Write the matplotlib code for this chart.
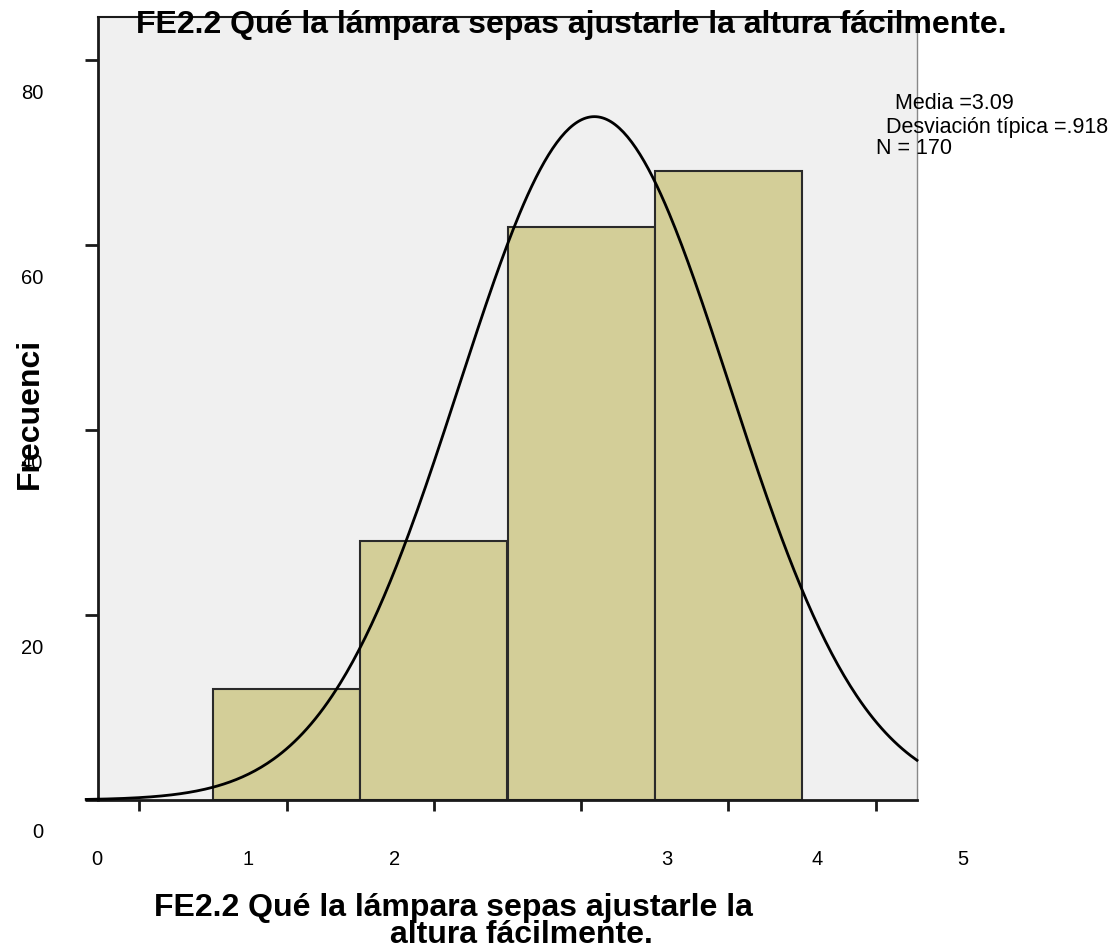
import numpy as np
import matplotlib
matplotlib.use('Agg')
import matplotlib.pyplot as plt
import matplotlib.transforms as mtransforms

plt.rcParams['font.family'] = ['Liberation Sans', 'DejaVu Sans']

# 数据
valores = [1, 2, 3, 4]
frecuencias = [12, 28, 62, 68]
media = 3.09
desv = 0.918
n_total = 170
y_ticks = [0, 20, 40, 60, 80]
x_ticks = [0, 1, 2, 3, 4, 5]
titulo = 'FE2.2 Qué la lámpara sepas ajustarle la altura fácilmente.'

fig = plt.figure(figsize=(11.18, 9.53), dpi=100)
W, H = 1118, 953
ax = fig.add_axes([98 / W, 1 - 801 / H, (917 - 98) / W, (801 - 18) / H])
ax.set_facecolor('#f0f0f0')

# 柱子
ax.bar(valores, frecuencias, width=1.0, color='#d3ce98', edgecolor='#2a2a2a', linewidth=1.5, zorder=2)

# 正态曲线
xs = np.linspace(-0.36, 5.28, 400)
ys = n_total / (desv * np.sqrt(2 * np.pi)) * np.exp(-0.5 * ((xs - media) / desv) ** 2)
ax.plot(xs, ys, color='black', linewidth=2, zorder=3, clip_on=False)

ax.set_xlim(-0.28, 5.28)
ax.set_ylim(0, 84.65)

for s in ['left', 'bottom', 'top']:
    ax.spines[s].set_linewidth(2)
    ax.spines[s].set_color('#1a1a1a')
ax.spines['right'].set_color('#888888')
ax.spines['right'].set_linewidth(1)
ax.spines['top'].set_linewidth(1.5)

ax.set_yticks(y_ticks)
ax.set_xticks(x_ticks)
ax.tick_params(axis='y', length=9.5, width=2, color='#1a1a1a', labelsize=14.5, pad=30)
ax.tick_params(axis='x', length=8, width=2, color='#1a1a1a', labelbottom=False)
ax.set_yticklabels([str(v) for v in y_ticks])
desplaza = mtransforms.ScaledTranslation(0, -30 / 100, fig.dpi_scale_trans)
for lab in ax.get_yticklabels():
    lab.set_transform(lab.get_transform() + desplaza)

# x 刻度标签（原图位置错位）
x_lab_px = [97, 248, 395, 667, 817, 963]
for v, px in zip(x_ticks, x_lab_px):
    fig.text(px / W, 1 - 860 / H, str(v), ha='center', va='center', fontsize=14.5)

fig.text(571 / W, 1 - 33 / H, titulo, ha='center', va='baseline', fontsize=23, fontweight='bold')
fig.text(453 / W, 1 - 916 / H, 'FE2.2 Qué la lámpara sepas ajustarle la', ha='center', va='baseline',
         fontsize=23, fontweight='bold')
fig.text(390 / W, 1 - 943 / H, 'altura fácilmente.', ha='left', va='baseline', fontsize=23, fontweight='bold')
fig.text(30 / W, 1 - 413 / H, 'Frecuenci', rotation=90, ha='center', va='center', fontsize=23, fontweight='bold')

fig.text(895 / W, 1 - 109 / H, 'Media =3.09', ha='left', va='baseline', fontsize=15.5)
fig.text(886 / W, 1 - 133 / H, 'Desviación típica =.918', ha='left', va='baseline', fontsize=15.5)
fig.text(876 / W, 1 - 154 / H, 'N = 170', ha='left', va='baseline', fontsize=15.5)

fig.savefig('out.png', dpi=100)
